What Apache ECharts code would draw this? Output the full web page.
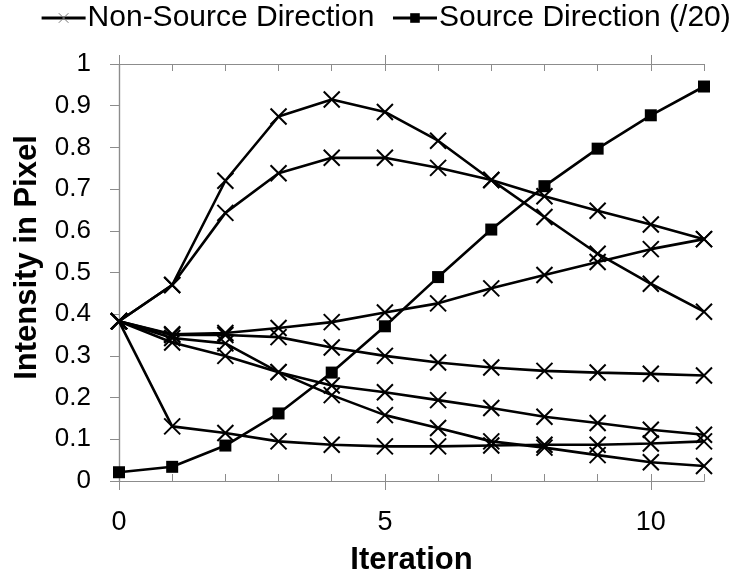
<!DOCTYPE html>
<html>
<head>
<meta charset="utf-8">
<script src="https://cdn.jsdelivr.net/npm/echarts@6/dist/echarts.min.js"></script>
<style>
  html, body { margin: 0; padding: 0; background: #fff; }
  #chart { width: 741px; height: 581px; }
</style>
</head>
<body>
<div id="chart"></div>
<script>
// Iteration index shared by every curve
const iterations = [0, 1, 2, 3, 4, 5, 6, 7, 8, 9, 10, 11];

// Pixel intensity along the non-source directions
const nonSourceA = [0.383, 0.47, 0.72, 0.874, 0.915, 0.885, 0.816, 0.722, 0.633, 0.545, 0.473, 0.406];
const nonSourceB = [0.383, 0.47, 0.643, 0.738, 0.775, 0.775, 0.751, 0.722, 0.683, 0.648, 0.615, 0.58];
const nonSourceC = [0.383, 0.352, 0.355, 0.367, 0.381, 0.404, 0.426, 0.462, 0.494, 0.525, 0.556, 0.58];
const nonSourceD = [0.383, 0.35, 0.35, 0.345, 0.32, 0.30, 0.284, 0.272, 0.264, 0.26, 0.257, 0.253];
const nonSourceE = [0.383, 0.332, 0.30, 0.261, 0.229, 0.213, 0.194, 0.175, 0.154, 0.139, 0.123, 0.111];
const nonSourceF = [0.383, 0.343, 0.33, 0.261, 0.206, 0.158, 0.127, 0.095, 0.08, 0.062, 0.045, 0.036];
const nonSourceG = [0.383, 0.131, 0.115, 0.095, 0.087, 0.083, 0.083, 0.085, 0.087, 0.087, 0.09, 0.095];

// Pixel intensity along the source direction, divided by 20
const sourceDir = [0.021, 0.034, 0.085, 0.162, 0.26, 0.371, 0.489, 0.603, 0.707, 0.797, 0.877, 0.946];

// Tick values
const xMajorTicks = [0, 5, 10];
const xAllTicks = iterations;
const yTicks = [0, 0.1, 0.2, 0.3, 0.4, 0.5, 0.6, 0.7, 0.8, 0.9, 1];

const FONT = '"Liberation Sans", Arial, sans-serif';
const AXIS_GRAY = '#8c8c8c';
const CROSS = 'path://M0,0L10,10M10,0L0,10';

const nonSourceSets = [nonSourceA, nonSourceB, nonSourceC, nonSourceD, nonSourceE, nonSourceF, nonSourceG];

function pairs(values) {
  return iterations.map((x, i) => [x, values[i]]);
}

const nonSourceSeries = nonSourceSets.map(values => ({
  name: 'Non-Source Direction',
  type: 'line',
  xAxisIndex: 0,
  yAxisIndex: 0,
  data: pairs(values),
  symbol: CROSS,
  symbolSize: 16,
  showAllSymbol: true,
  lineStyle: { color: '#000', width: 2.6 },
  itemStyle: { color: 'rgba(0,0,0,0)', borderColor: '#000', borderWidth: 2 },
  emphasis: { disabled: true },
  animation: false,
  z: 3
}));

const sourceSeries = {
  name: 'Source Direction (/20)',
  type: 'line',
  xAxisIndex: 0,
  yAxisIndex: 0,
  data: pairs(sourceDir),
  symbol: 'rect',
  symbolSize: 12,
  lineStyle: { color: '#000', width: 2.6 },
  itemStyle: { color: '#000', borderWidth: 0 },
  emphasis: { disabled: true },
  animation: false,
  z: 4
};

const frameLine = { show: true, lineStyle: { color: AXIS_GRAY, width: 1.2 } };

const option = {
  backgroundColor: '#fff',
  animation: false,
  textStyle: { fontFamily: FONT },
  grid: { left: 119, right: 37, top: 64, bottom: 94, containLabel: false },
  legend: {
    top: 3,
    left: 40,
    padding: 0,
    itemWidth: 44,
    itemHeight: 12,
    itemGap: 17,
    lineStyle: { width: 3.2 },
    textStyle: { fontFamily: FONT, fontSize: 30, color: '#000', padding: [0, 0, 0, -3] },
    data: [
      { name: 'Non-Source Direction', itemStyle: { color: 'rgba(0,0,0,0)', borderColor: '#777', borderWidth: 1 } },
      { name: 'Source Direction (/20)' }
    ]
  },
  xAxis: [
    {
      type: 'value', position: 'bottom', min: 0, max: 11, interval: 1,
      axisLine: frameLine,
      axisTick: { show: true, inside: true, length: 7, customValues: xAllTicks, lineStyle: { color: AXIS_GRAY } },
      axisLabel: { show: false },
      splitLine: { show: false }
    },
    {
      type: 'value', position: 'bottom', min: 0, max: 11, interval: 5,
      axisLine: frameLine,
      axisTick: { show: true, inside: false, length: 9, customValues: xMajorTicks, lineStyle: { color: AXIS_GRAY } },
      axisLabel: { show: true, customValues: xMajorTicks, fontSize: 27, color: '#000', margin: 28, fontFamily: FONT },
      splitLine: { show: false },
      name: 'Iteration',
      nameLocation: 'middle',
      nameGap: 64,
      nameTextStyle: { fontSize: 31, fontWeight: 'bold', color: '#000', fontFamily: FONT }
    },
    {
      type: 'value', position: 'top', min: 0, max: 11, interval: 1,
      axisLine: frameLine,
      axisTick: { show: true, inside: true, length: 7, customValues: xAllTicks, lineStyle: { color: AXIS_GRAY } },
      axisLabel: { show: false },
      splitLine: { show: false }
    },
    {
      type: 'value', position: 'top', min: 0, max: 11, interval: 5,
      axisLine: frameLine,
      axisTick: { show: true, inside: false, length: 9, customValues: xMajorTicks, lineStyle: { color: AXIS_GRAY } },
      axisLabel: { show: false },
      splitLine: { show: false }
    }
  ],
  yAxis: [
    {
      type: 'value', position: 'left', min: 0, max: 1, interval: 0.1,
      axisLine: frameLine,
      axisTick: { show: true, inside: false, length: 9, customValues: yTicks, lineStyle: { color: AXIS_GRAY } },
      axisLabel: {
        show: true, customValues: yTicks, fontSize: 26, color: '#000', margin: 28, fontFamily: FONT,
        formatter: v => String(Math.round(v * 10) / 10)
      },
      splitLine: { show: false },
      name: 'Intensity in Pixel',
      nameLocation: 'middle',
      nameGap: 76,
      nameRotate: 90,
      nameTextStyle: { fontSize: 31, fontWeight: 'bold', color: '#000', fontFamily: FONT, padding: [0, 0, 0, 30] }
    },
    {
      type: 'value', position: 'right', min: 0, max: 1, interval: 0.1,
      axisLine: frameLine,
      axisTick: { show: true, inside: true, length: 8, customValues: yTicks, lineStyle: { color: AXIS_GRAY } },
      axisLabel: { show: false },
      splitLine: { show: false }
    }
  ],
  series: [...nonSourceSeries, sourceSeries]
};

const chart = echarts.init(document.getElementById('chart'), null, { renderer: 'canvas' });
chart.setOption(option);
</script>
</body>
</html>
